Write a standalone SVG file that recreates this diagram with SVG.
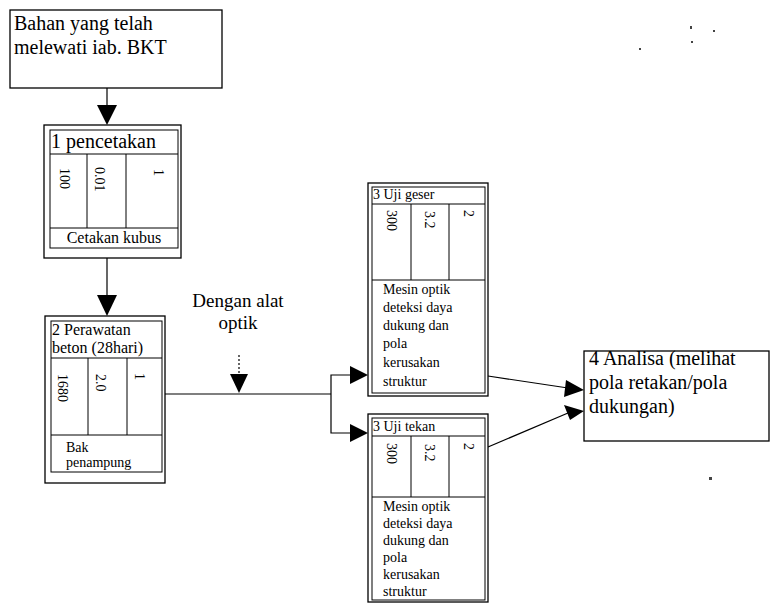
<svg xmlns="http://www.w3.org/2000/svg" width="770" height="606" viewBox="0 0 770 606" font-family="'Liberation Serif', 'Times New Roman', serif">
<style>
text{fill:#000}
.bx{fill:#fff;stroke:#000;stroke-width:1.3}
.in{fill:none;stroke:#000;stroke-width:1}
.ln{fill:none;stroke:#000;stroke-width:1.2}
.ah{fill:#000;stroke:none}
.big{font-size:20px}
.mid{font-size:16px}
.sm{font-size:14px}
</style>
<rect width="770" height="606" fill="#fff"/>
<g id="connectors">
<line class="ln" x1="107" y1="88" x2="107" y2="106"/>
<polygon class="ah" points="97,105 117,105 107,125"/>
<line class="ln" x1="107" y1="258" x2="107" y2="296"/>
<polygon class="ah" points="97,295 117,295 107,316"/>
<polyline class="ln" points="165,394 331,394"/>
<polyline class="ln" points="351,375 331,375 331,433 351,433"/>
<polygon class="ah" points="350,366 368,375 350,384"/>
<polygon class="ah" points="350,424 368,433 350,442"/>
<line class="ln" x1="239" y1="355" x2="239" y2="375" stroke-dasharray="2,2"/>
<polygon class="ah" points="230,374 248,374 239,393"/>
<line class="ln" x1="488" y1="376" x2="568" y2="388"/>
<polygon class="ah" points="566,380 584,390 564,397"/>
<line class="ln" x1="488" y1="447" x2="568" y2="413"/>
<polygon class="ah" points="564,405 584,411 570,420"/>
</g>
<g id="n0">
<rect class="bx" x="10" y="10" width="212" height="78"/>
<text class="big" x="14" y="30">Bahan yang telah</text>
<text class="big" x="14" y="54">melewati iab. BKT</text>
</g>
<g id="n1">
<rect class="bx" x="44" y="125" width="137" height="133"/>
<rect class="in" x="50" y="130" width="128" height="118"/>
<line class="in" x1="50" y1="154" x2="178" y2="154"/>
<line class="in" x1="50" y1="228" x2="178" y2="228"/>
<line class="in" x1="87" y1="154" x2="87" y2="228"/>
<line class="in" x1="126" y1="154" x2="126" y2="228"/>
<text class="big" x="51" y="148">1 pencetakan</text>
<text class="sm" transform="translate(60,168) rotate(90)">100</text>
<text class="sm" transform="translate(95,167) rotate(90)">0.01</text>
<text class="sm" transform="translate(154,169) rotate(90)">1</text>
<text class="mid" x="114" y="243" text-anchor="middle">Cetakan kubus</text>
</g>
<g id="n2">
<rect class="bx" x="45" y="316" width="120" height="167"/>
<rect class="in" x="51" y="321" width="111" height="151"/>
<line class="in" x1="51" y1="358" x2="162" y2="358"/>
<line class="in" x1="51" y1="435" x2="162" y2="435"/>
<line class="in" x1="88" y1="358" x2="88" y2="435"/>
<line class="in" x1="127" y1="358" x2="127" y2="435"/>
<text class="mid" x="52" y="335">2 Perawatan</text>
<text class="mid" x="52" y="353">beton (28hari)</text>
<text class="sm" transform="translate(58,374) rotate(90)">1680</text>
<text class="sm" transform="translate(96,374) rotate(90)">2.0</text>
<text class="sm" transform="translate(135,373) rotate(90)">1</text>
<text class="sm" x="66" y="452">Bak</text>
<text class="sm" x="66" y="467">penampung</text>
</g>
<g id="n3a">
<rect class="bx" x="368" y="183" width="120" height="213"/>
<rect class="in" x="372" y="187" width="113" height="206"/>
<line class="in" x1="372" y1="204" x2="485" y2="204"/>
<line class="in" x1="372" y1="280" x2="485" y2="280"/>
<line class="in" x1="411" y1="204" x2="411" y2="280"/>
<line class="in" x1="449" y1="204" x2="449" y2="280"/>
<text class="sm" x="373" y="199">3 Uji geser</text>
<text class="sm" transform="translate(387,210) rotate(90)">300</text>
<text class="sm" transform="translate(425,211) rotate(90)">3.2</text>
<text class="sm" transform="translate(464,210) rotate(90)">2</text>
<text class="sm" x="383" y="294">Mesin optik</text>
<text class="sm" x="383" y="312">deteksi daya</text>
<text class="sm" x="383" y="330">dukung dan</text>
<text class="sm" x="383" y="348">pola</text>
<text class="sm" x="383" y="367">kerusakan</text>
<text class="sm" x="383" y="386">struktur</text>
</g>
<g id="n3b">
<rect class="bx" x="368" y="414" width="120" height="188"/>
<rect class="in" x="372" y="418" width="113" height="182"/>
<line class="in" x1="372" y1="436" x2="485" y2="436"/>
<line class="in" x1="372" y1="497" x2="485" y2="497"/>
<line class="in" x1="411" y1="436" x2="411" y2="497"/>
<line class="in" x1="449" y1="436" x2="449" y2="497"/>
<text class="sm" x="373" y="431">3 Uji tekan</text>
<text class="sm" transform="translate(387,443) rotate(90)">300</text>
<text class="sm" transform="translate(425,444) rotate(90)">3.2</text>
<text class="sm" transform="translate(464,443) rotate(90)">2</text>
<text class="sm" x="383" y="511">Mesin optik</text>
<text class="sm" x="383" y="528">deteksi daya</text>
<text class="sm" x="383" y="545">dukung dan</text>
<text class="sm" x="383" y="562">pola</text>
<text class="sm" x="383" y="579">kerusakan</text>
<text class="sm" x="383" y="596">struktur</text>
</g>
<g id="n4">
<rect class="bx" x="584" y="351" width="185" height="90"/>
<text class="big" x="589" y="365">4 Analisa (melihat</text>
<text class="big" x="589" y="389">pola retakan/pola</text>
<text class="big" x="589" y="413">dukungan)</text>
</g>
<g id="label">
<text x="238" y="307" font-size="19" text-anchor="middle">Dengan alat</text>
<text x="238" y="329" font-size="19" text-anchor="middle">optik</text>
</g>
<g id="specks" fill="#444">
<rect x="690" y="26" width="2" height="3"/>
<rect x="713" y="30" width="2" height="2"/>
<rect x="691" y="41" width="2" height="2"/>
<rect x="639" y="48" width="2" height="2"/>
<rect x="709" y="477" width="3" height="3"/>
</g>
</svg>
